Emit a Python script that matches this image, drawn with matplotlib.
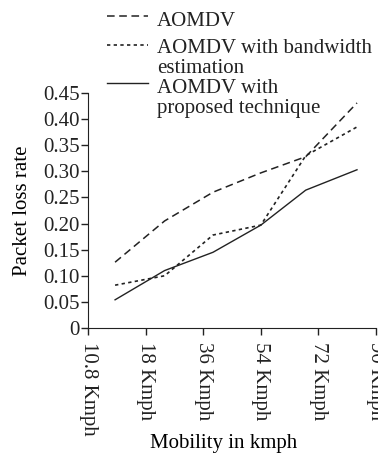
import matplotlib
matplotlib.use("Agg")
import matplotlib.pyplot as plt
from matplotlib.lines import Line2D

# data
tick_labels = ["10.8 Kmph", "18 Kmph", "36 Kmph", "54 Kmph", "72 Kmph", "90 Kmph"]
x_pts = [0.47, 1.33, 2.17, 3.0, 3.78, 4.67]
aomdv = [0.126, 0.205, 0.26, 0.297, 0.328, 0.431]
aomdv_bw = [0.082, 0.100, 0.178, 0.197, 0.33, 0.385]
aomdv_prop = [0.054, 0.110, 0.145, 0.197, 0.264, 0.303]
y_ticks = [0, 0.05, 0.10, 0.15, 0.20, 0.25, 0.30, 0.35, 0.40, 0.45]
y_tick_labels = ["0", "0.05", "0.10", "0.15", "0.20", "0.25", "0.30", "0.35", "0.40", "0.45"]

plt.rcParams["font.family"] = ["Liberation Serif", "DejaVu Serif"]
fs = 15

fig = plt.figure(figsize=(3.78, 4.53), dpi=100)
ax = fig.add_axes([88/378, 1-328/453, 288/378, 235/453])

dash_style = (0, (5, 3))
dot_style = (0, (2, 2))
ax.plot(x_pts, aomdv, color="#222222", lw=1.1, linestyle=dash_style)
ax.plot(x_pts, aomdv_bw, color="#222222", lw=1.2, linestyle=dot_style)
ax.plot(x_pts, aomdv_prop, color="#222222", lw=1.0, linestyle="-")

ax.set_xlim(0, 5)
ax.set_ylim(0, 0.45)
ax.set_xticks(range(6))
ax.set_xticklabels(tick_labels, rotation=270, fontsize=fs)
ax.set_yticks(y_ticks)
ax.set_yticklabels(y_tick_labels, fontsize=fs)
ax.tick_params(direction="out", length=5, width=1, pad=1, colors="#222222")
ax.tick_params(axis="x", pad=5)
for s in ["top", "right"]:
    ax.spines[s].set_visible(False)
for s in ["left", "bottom"]:
    ax.spines[s].set_color("#222222")
ax.set_ylabel("Packet loss rate", fontsize=fs)
ax.yaxis.set_label_coords(-0.195, 0.5)
ax.set_xlabel("Mobility in kmph", fontsize=fs)
ax.xaxis.set_label_coords(0.47, -0.45)

# legend drawn by hand so the handle sits on the first line of the label
# (label, style, width, handle y px, text top px)
legend = [
    ("AOMDV", dash_style, 1.1, 16, 12),
    ("AOMDV with bandwidth\nestimation", dot_style, 1.2, 45, 39),
    ("AOMDV with\nproposed technique", "-", 1.0, 83, 79),
]
for label, ls, lw, hy, ty in legend:
    yf = 1 - hy/453
    fig.add_artist(Line2D([107/378, 148/378], [yf, yf], color="#222222",
                          lw=lw, linestyle=ls, transform=fig.transFigure))
    fig.text(157/378, 1 - ty/453, label, fontsize=fs, va="top",
             ha="left", linespacing=1.1, color="#222222")

fig.savefig("out.png", dpi=100)
